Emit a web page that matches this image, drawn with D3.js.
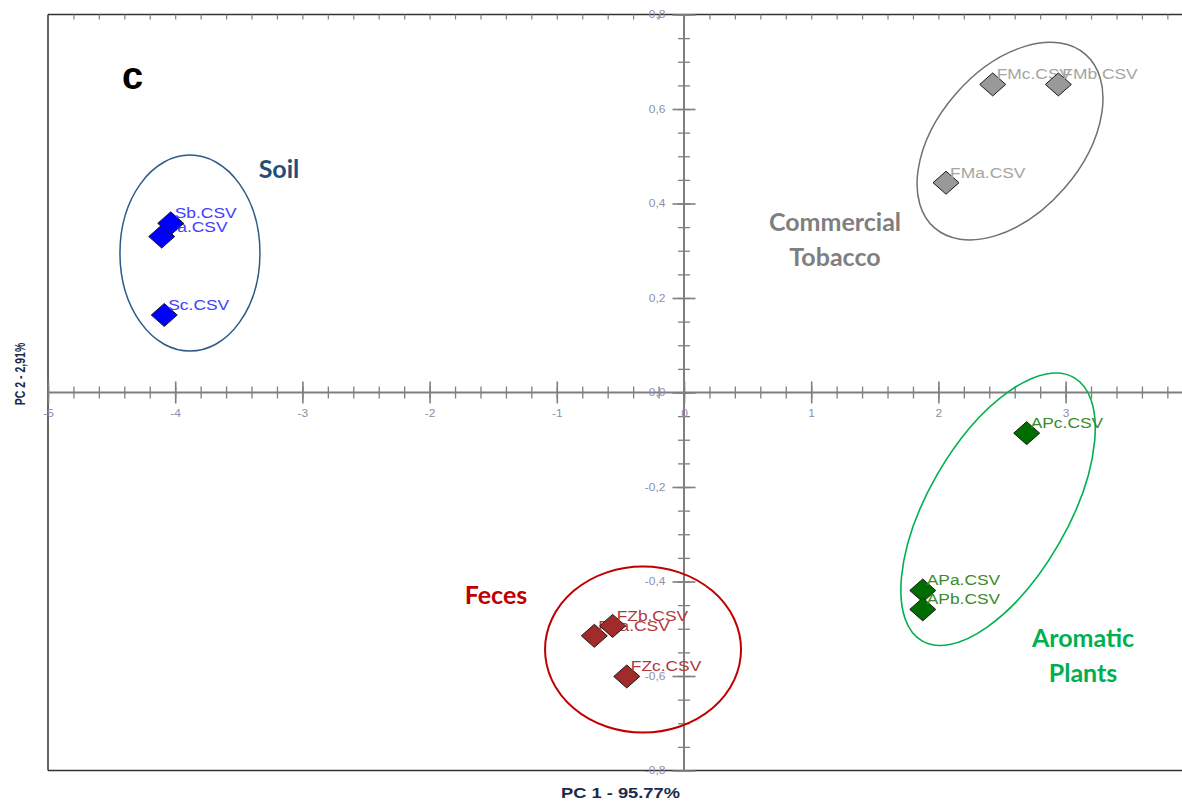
<!DOCTYPE html>
<html><head><meta charset="utf-8">
<script src="https://cdn.jsdelivr.net/npm/d3@7"></script>
<style>body{margin:0;background:#fff}svg{display:block}</style>
</head><body>
<svg id="chart" width="1182" height="801"></svg>
<script>
// ---- data ----
const sampleNames = ["Sa.CSV","Sb.CSV","Sc.CSV","FMa.CSV","FMc.CSV","FMb.CSV","FZa.CSV","FZb.CSV","FZc.CSV","APa.CSV","APb.CSV","APc.CSV"];
const sampleGroup = ["Soil","Soil","Soil","Tobacco","Tobacco","Tobacco","Feces","Feces","Feces","Aromatic","Aromatic","Aromatic"];
const pc1 = [-4.106,-4.035,-4.086, 2.060,2.427,2.943, -0.705,-0.561,-0.450, 1.877,1.877,2.694];
const pc2 = [0.330,0.358,0.164, 0.444,0.652,0.652, -0.515,-0.494,-0.601, -0.419,-0.459,-0.086];
const groups = ["Soil","Tobacco","Feces","Aromatic"];
const groupTitles = [["Soil"],["Commercial","Tobacco"],["Feces"],["Aromatic","Plants"]];
const xTickValues = [-5,-4,-3,-2,-1,0,1,2,3];
const yTickValues = [-0.8,-0.6,-0.4,-0.2,0,0.2,0.4,0.6,0.8];
const xTitle = "PC 1 - 95.77%";
const yTitle = "PC 2 - 2,91%";
const panelLetter = "c";

// ---- styles ----
const fillColor = {Soil:"#0000ff", Tobacco:"#999999", Feces:"#a12a2a", Aromatic:"#006d00"};
const textColor = {Soil:"#4040ff", Tobacco:"#a4a4a4", Feces:"#b23a3a", Aromatic:"#3b8a2a"};
const groupColor = {Soil:"#1f4e79", Tobacco:"#7f7f7f", Feces:"#c00000", Aromatic:"#00b050"};
// annotation anchors (data coords) and ellipse specs
const groupLabelPos = {Soil:[-3.184,0.454], Tobacco:[1.187,0.342], Feces:[-1.478,-0.448], Aromatic:[3.137,-0.539]};
const ellipseSpec = {
  Soil:{c:[-3.884,0.295], rx:70, ry:98, rot:0, sw:1.5, col:"#2e5a87"},
  Tobacco:{c:[2.563,0.532], rx:115, ry:72, rot:-49, sw:1.5, col:"#707070"},
  Feces:{c:[-0.322,-0.544], rx:98, ry:83, rot:0, sw:2, col:"#c00000"},
  Aromatic:{c:[2.469,-0.247], rx:152, ry:70, rot:-60, sw:1.6, col:"#00b050"}
};

const svg = d3.select("#chart");
const x = d3.scaleLinear().domain([-5, 4]).range([48, 48 + 9*127.2]);
const y = d3.scaleLinear().domain([-0.8, 0.8]).range([770.5, 14.5]);
const x0 = x(0), y0 = y(0);
const axisCol = "#7f7f7f";
const tickLabelCol = "#8e8eaa";
const fmtY = d => d3.format(".1f")(d).replace("\u2212","-").replace(".",",");
const fmtX = d => String(d);

svg.append("rect").attr("width",1182).attr("height",801).attr("fill","#fff");

// frame
svg.append("line").attr("x1",x(-5)).attr("x2",1182).attr("y1",y(0.8)).attr("y2",y(0.8)).attr("stroke","#333").attr("stroke-width",1.5);
svg.append("line").attr("x1",x(-5)).attr("x2",1182).attr("y1",y(-0.8)).attr("y2",y(-0.8)).attr("stroke","#333").attr("stroke-width",1.5);
svg.append("line").attr("x1",x(-5)).attr("x2",x(-5)).attr("y1",y(0.8)).attr("y2",y(-0.8)).attr("stroke","#333").attr("stroke-width",1.5);

// top border minor ticks
svg.append("g").attr("transform",`translate(0,${y(0.8)})`)
  .call(d3.axisBottom(x).tickValues(d3.range(-4.8,3.95,0.2)).tickSize(5).tickFormat(""))
  .call(g=>g.select(".domain").remove())
  .call(g=>g.selectAll("line").attr("stroke",axisCol).attr("stroke-width",1.2));

// axis lines
svg.append("line").attr("x1",x(-5)).attr("x2",1182).attr("y1",y0).attr("y2",y0).attr("stroke",axisCol).attr("stroke-width",2);
svg.append("line").attr("x1",x0).attr("x2",x0).attr("y1",y(0.8)).attr("y2",y(-0.8)).attr("stroke",axisCol).attr("stroke-width",2);

// x minor ticks
svg.append("g").attr("transform",`translate(0,${y0-6})`)
  .call(d3.axisBottom(x).tickValues(d3.range(-5,3.95,0.2)).tickSize(12).tickFormat(""))
  .call(g=>g.select(".domain").remove())
  .call(g=>g.selectAll("line").attr("stroke",axisCol).attr("stroke-width",1.3));
// y minor ticks
svg.append("g").attr("transform",`translate(${x0+6},0)`)
  .call(d3.axisLeft(y).tickValues(d3.range(-0.8,0.81,0.05)).tickSize(12).tickFormat(""))
  .call(g=>g.select(".domain").remove())
  .call(g=>g.selectAll("line").attr("stroke",axisCol).attr("stroke-width",1.3));

// x major
svg.append("g").attr("transform",`translate(0,${y0-11})`)
  .call(d3.axisBottom(x).tickValues(xTickValues).tickSize(22).tickPadding(6).tickFormat(fmtX))
  .call(g=>g.select(".domain").remove())
  .call(g=>g.selectAll("line").attr("stroke",axisCol).attr("stroke-width",1.6))
  .call(g=>g.selectAll("text").attr("fill",tickLabelCol).attr("font-family","Liberation Sans, Arial, sans-serif").attr("font-size",10)
      .attr("transform","scale(1.2,1)"));
// y major
svg.append("g").attr("transform",`translate(${x0+11.5},0)`)
  .call(d3.axisLeft(y).tickValues(yTickValues).tickSize(23).tickPadding(7).tickFormat(fmtY))
  .call(g=>g.select(".domain").remove())
  .call(g=>g.selectAll("line").attr("stroke",axisCol).attr("stroke-width",1.6))
  .call(g=>g.selectAll("text").attr("fill",tickLabelCol).attr("font-family","Liberation Sans, Arial, sans-serif").attr("font-size",10)
      .attr("x",-30/1.2).attr("transform","scale(1.2,1)"));

// ellipses
groups.forEach(gname=>{
  const e = ellipseSpec[gname];
  svg.append("ellipse")
    .attr("transform",`translate(${x(e.c[0])},${y(e.c[1])}) rotate(${e.rot})`)
    .attr("rx",e.rx).attr("ry",e.ry).attr("fill","none").attr("stroke",e.col).attr("stroke-width",e.sw);
});

// points
const diamond = {draw(ctx, size){ const w=13, h=11.5; ctx.moveTo(0,-h); ctx.lineTo(w,0); ctx.lineTo(0,h); ctx.lineTo(-w,0); ctx.closePath(); }};
const sym = d3.symbol().type(diamond);
const pts = sampleNames.map((n,i)=>({name:n, g:sampleGroup[i], px:pc1[i], py:pc2[i]}));
const pg = svg.append("g");
pts.forEach(d=>{
  pg.append("path").attr("d",sym()).attr("transform",`translate(${x(d.px)},${y(d.py)})`)
    .attr("fill",fillColor[d.g]).attr("stroke","#1a1a1a").attr("stroke-width",1);
  pg.append("text").attr("transform",`translate(${x(d.px)+4},${y(d.py)-5}) scale(1.2,1)`)
    .attr("font-family","Liberation Sans, Arial, sans-serif").attr("font-size",14.5)
    .attr("fill",textColor[d.g]).text(d.name);
});

// group titles
groups.forEach((gname,i)=>{
  const p = groupLabelPos[gname];
  const t = svg.append("text").attr("text-anchor","middle").attr("font-family","Lato, sans-serif").attr("font-weight","bold")
    .attr("font-size",25).attr("fill",groupColor[gname]);
  groupTitles[i].forEach((line,j)=>{
    t.append("tspan").attr("x",x(p[0])).attr("y",y(p[1])+j*35).text(line);
  });
});

// panel letter
svg.append("text").attr("x",122).attr("y",89).attr("font-family","Liberation Sans, Arial, sans-serif").attr("font-weight","bold")
  .attr("font-size",38).attr("fill","#000").text(panelLetter);

// axis titles
svg.append("text").attr("transform","translate(620.5,797.5) scale(1.22,1)").attr("text-anchor","middle")
  .attr("font-family","Liberation Sans, Arial, sans-serif").attr("font-weight","bold").attr("font-size",15).attr("fill","#1c2a4a").text(xTitle);
svg.append("text").attr("transform","translate(24.5,374) rotate(-90) scale(1,1.35)").attr("text-anchor","middle")
  .attr("font-family","Liberation Sans, Arial, sans-serif").attr("font-weight","bold").attr("font-size",10.5).attr("fill","#1c2a4a").text(yTitle);
</script>
</body></html>
